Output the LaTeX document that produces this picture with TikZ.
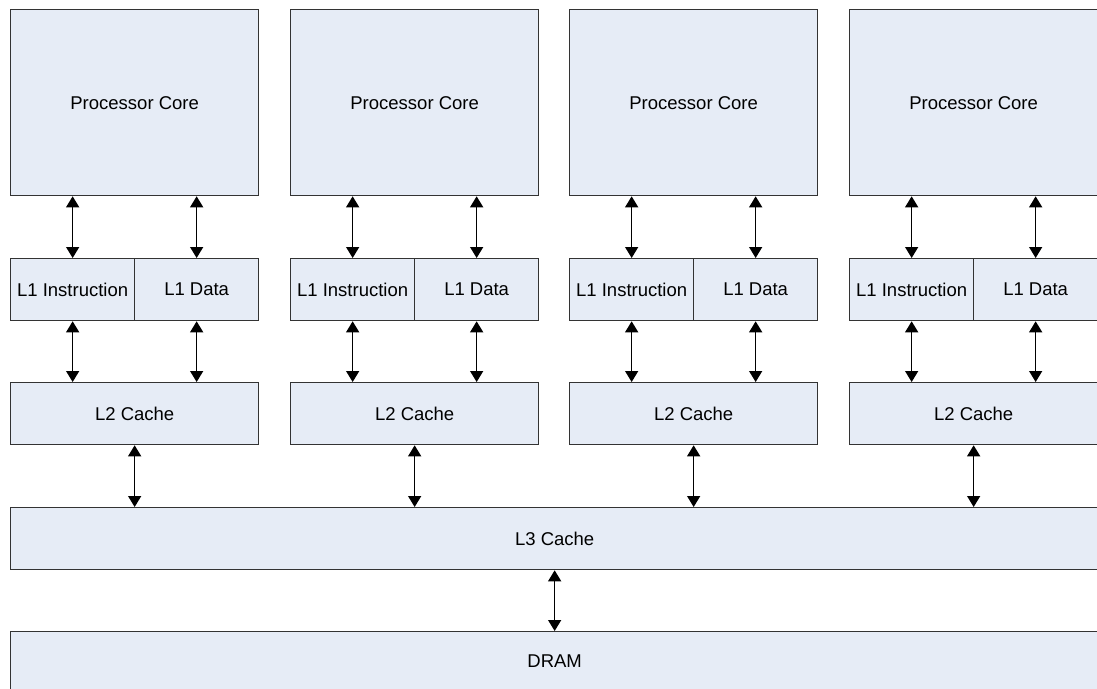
\documentclass[tikz,border=0pt]{standalone}
\usepackage{fontspec}
\setmainfont{Liberation Sans}
\usetikzlibrary{arrows.meta}
\definecolor{boxfill}{HTML}{E6ECF6}
\definecolor{boxline}{HTML}{333333}
\begin{document}
\begin{tikzpicture}[x=1pt,y=-1pt,
  blk/.style={draw=boxline, fill=boxfill, line width=1.3pt, inner sep=0pt, anchor=north west,
    font=\fontsize{18.5}{22}\selectfont, text=black},
  link/.style={{Triangle[length=11pt,width=13pt]}-{Triangle[length=11pt,width=13pt]}, line width=1.4pt, black}]
\useasboundingbox (0,0) rectangle (1097,688);
\clip (0,0) rectangle (1097,688);
\node[blk, minimum width=1088pt, minimum height=62pt] (l3) at (10,507) {L3 Cache};
\node[blk, minimum width=1088pt, minimum height=58pt] (dram) at (10,631) {DRAM};
\foreach \i/\x in {1/10,2/290,3/569,4/849} {
  \node[blk, minimum width=248pt, minimum height=186pt] (core\i) at (\x,9) {Processor Core};
  \node[blk, minimum width=124pt, minimum height=62pt] (l1i\i) at (\x,258) {L1 Instruction};
  \node[blk, minimum width=124pt, minimum height=62pt] (l1d\i) at (\x+124,258) {L1 Data};
  \node[blk, minimum width=248pt, minimum height=62pt] (l2\i) at (\x,382) {L2 Cache};
  \draw[link] (core\i.south -| l1i\i.north) -- (l1i\i.north);
  \draw[link] (core\i.south -| l1d\i.north) -- (l1d\i.north);
  \draw[link] (l1i\i.south) -- (l1i\i.south |- l2\i.north);
  \draw[link] (l1d\i.south) -- (l1d\i.south |- l2\i.north);
  \draw[link] (l2\i.south) -- (l2\i.south |- l3.north);
}
\draw[link] (l3.south) -- (dram.north);
\end{tikzpicture}
\end{document}
